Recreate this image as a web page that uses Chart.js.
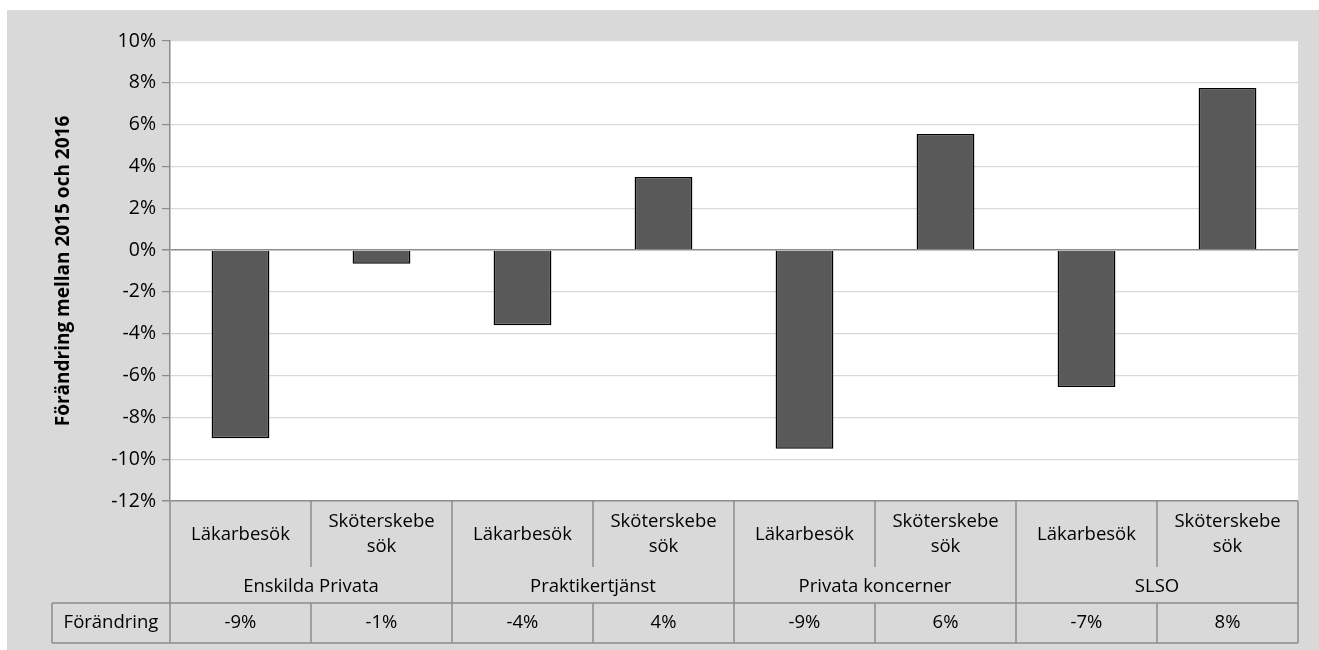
<!DOCTYPE html>
<html>
<head>
<meta charset="utf-8">
<script src="https://cdn.jsdelivr.net/npm/chart.js@4/dist/chart.umd.min.js"></script>
<style>
  html, body { margin: 0; padding: 0; background: #fff; }
  #wrap { width: 1319px; height: 650px; }
</style>
</head>
<body>
<div id="wrap"><canvas id="chart" width="1319" height="650"></canvas></div>
<script>
const subLabels = ['Läkarbesök', 'Sköterskebe|sök', 'Läkarbesök', 'Sköterskebe|sök', 'Läkarbesök', 'Sköterskebe|sök', 'Läkarbesök', 'Sköterskebe|sök']
const groups = ['Enskilda Privata', 'Praktikertjänst', 'Privata koncerner', 'SLSO']
const change = [-9.0, -0.65, -3.6, 3.5, -9.5, 5.55, -6.55, 7.75]
const tableRow = ['-9%', '-1%', '-4%', '4%', '-9%', '6%', '-7%', '8%']
const rowLabel = 'Förändring'
const yTitle = 'Förändring mellan 2015 och 2016'

const FONT = '"Open Sans", "Liberation Sans", sans-serif'
const LINE = '#8c8c8c'

const backgroundPlugin = {
  id: 'bg',
  beforeDraw(chart) {
    const { ctx, chartArea: a } = chart
    ctx.save()
    ctx.fillStyle = '#fff'
    ctx.fillRect(0, 0, chart.width, chart.height)
    ctx.fillStyle = '#d9d9d9'
    ctx.fillRect(7, 10, chart.width - 7, chart.height - 10)
    ctx.fillStyle = '#fff'
    ctx.fillRect(a.left, a.top, a.right - a.left, a.bottom - a.top)
    ctx.restore()
  }
}

const tablePlugin = {
  id: 'table',
  afterDraw(chart) {
    const { ctx, chartArea: a } = chart
    const x = chart.scales.x
    const n = subLabels.length
    const step = (a.right - a.left) / n
    const rowSub = a.bottom + 66
    const rowGrp = a.bottom + 102
    const rowEnd = a.bottom + 142
    const labelLeft = 52
    ctx.save()
    ctx.strokeStyle = LINE
    ctx.lineWidth = 1.5
    ctx.beginPath()
    // vertical lines
    for (let i = 0; i <= n; i++) {
      const px = a.left + i * step
      ctx.moveTo(px, a.bottom)
      ctx.lineTo(px, i % 2 === 0 ? rowEnd : rowSub)
      if (i % 2 === 1) {
        ctx.moveTo(px, rowGrp)
        ctx.lineTo(px, rowEnd)
      }
    }
    ctx.moveTo(labelLeft, rowGrp); ctx.lineTo(a.right, rowGrp)
    ctx.moveTo(labelLeft, rowEnd); ctx.lineTo(a.right, rowEnd)
    ctx.moveTo(labelLeft, rowGrp); ctx.lineTo(labelLeft, rowEnd)
    ctx.stroke()

    ctx.fillStyle = '#000'
    ctx.font = '18.5px ' + FONT
    ctx.textAlign = 'center'
    ctx.textBaseline = 'middle'
    subLabels.forEach((lab, i) => {
      const cx = x.getPixelForValue(i)
      const parts = lab.split('|')
      if (parts.length === 1) {
        ctx.fillText(parts[0], cx, a.bottom + 34)
      } else {
        ctx.fillText(parts[0], cx, a.bottom + 21)
        ctx.fillText(parts[1], cx, a.bottom + 46)
      }
      ctx.fillText(tableRow[i], cx, (rowGrp + rowEnd) / 2)
    })
    groups.forEach((g, j) => {
      const cx = (x.getPixelForValue(2 * j) + x.getPixelForValue(2 * j + 1)) / 2
      ctx.fillText(g, cx, (rowSub + rowGrp) / 2 + 2)
    })
    ctx.fillText(rowLabel, (labelLeft + a.left) / 2, (rowGrp + rowEnd) / 2)

    // y title
    ctx.font = 'bold 19px ' + FONT
    ctx.translate(64, (a.top + a.bottom) / 2)
    ctx.rotate(-Math.PI / 2)
    ctx.fillText(yTitle, 0, 0)
    ctx.restore()
  }
}

new Chart(document.getElementById('chart'), {
  type: 'bar',
  data: {
    labels: subLabels,
    datasets: [{
      data: change,
      backgroundColor: '#595959',
      borderColor: '#000',
      borderWidth: 1.5,
      barPercentage: 0.41,
      categoryPercentage: 1
    }]
  },
  options: {
    responsive: false,
    animation: false,
    layout: { padding: { left: 100, top: 41, right: 21, bottom: 149 } },
    plugins: { legend: { display: false }, tooltip: { enabled: false } },
    scales: {
      x: {
        display: false
      },
      y: {
        min: -12,
        max: 10,
        afterFit(scale) { scale.width = 70 },
        ticks: {
          stepSize: 2,
          color: '#000',
          font: { size: 19.5, family: FONT },
          padding: 6,
          callback: (v) => v + '%'
        },
        border: { display: true, color: LINE, width: 1.5 },
        grid: {
          color: (c) => c.tick && c.tick.value === 0 ? LINE : c.tick && c.tick.value === -12 ? LINE : '#d9d9d9',
          lineWidth: (c) => c.tick && (c.tick.value === 0 || c.tick.value === -12) ? 1.5 : 1.2,
          tickColor: LINE,
          tickLength: 8
        }
      }
    }
  },
  plugins: [backgroundPlugin, tablePlugin]
})
</script>
</body>
</html>
